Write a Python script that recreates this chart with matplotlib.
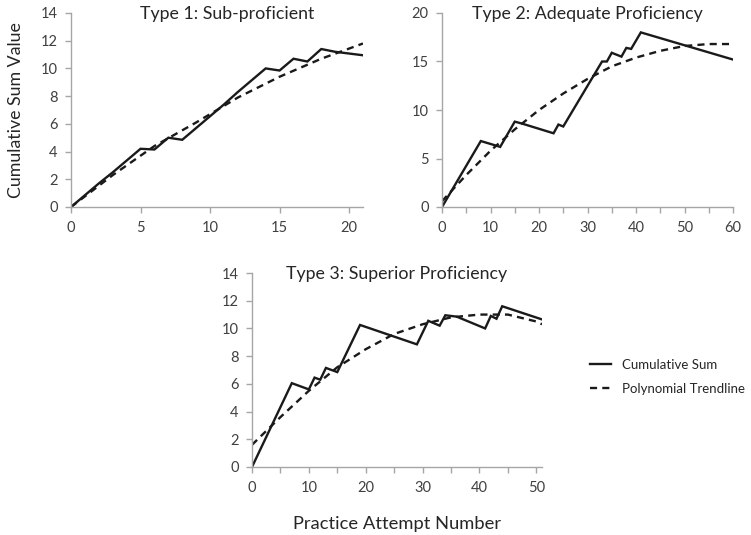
import matplotlib.pyplot as plt

plt.rcParams['font.family'] = ['Lato', 'DejaVu Sans']

# Type 1: Sub-proficient
t1_x = [0, 1, 2, 3, 4, 5, 6, 7, 8, 9, 10, 11, 12, 13, 14, 15, 16, 17, 18, 19, 21]
t1_cusum = [0, 0.85, 1.7, 2.5, 3.35, 4.2, 4.15, 5.0, 4.85, 5.7, 6.55, 7.4, 8.3, 9.15, 10.0, 9.85, 10.7, 10.5, 11.4, 11.2, 10.95]
t1_tx = [0, 3, 6, 9, 12, 15, 18, 21]
t1_trend = [0, 2.3, 4.4, 6.1, 7.9, 9.4, 10.7, 11.8]

# Type 2: Adequate Proficiency
t2_x = [0, 8, 12, 15, 16.5, 23, 24, 25, 33, 34, 35, 37, 38, 39, 41, 60]
t2_cusum = [0, 6.8, 6.2, 8.8, 8.6, 7.6, 8.5, 8.3, 15.0, 15.0, 15.9, 15.5, 16.4, 16.3, 18.0, 15.2]
t2_tx = [0, 5, 10, 15, 20, 25, 30, 35, 40, 45, 50, 55, 60]
t2_trend = [0.6, 3.3, 5.8, 8.0, 10.0, 11.7, 13.2, 14.5, 15.4, 16.1, 16.6, 16.8, 16.8]

# Type 3: Superior Proficiency
t3_x = [0, 7, 10, 11, 12, 13, 15, 19, 29, 31, 33, 34, 36, 41, 42, 43, 44, 51]
t3_cusum = [0, 6.05, 5.6, 6.45, 6.3, 7.15, 6.85, 10.25, 8.85, 10.55, 10.2, 10.95, 10.85, 10.0, 10.9, 10.7, 11.6, 10.65]
t3_tx = [0, 5, 10, 15, 20, 25, 30, 35, 40, 45, 50, 51]
t3_trend = [1.6, 3.6, 5.5, 7.2, 8.5, 9.6, 10.3, 10.8, 11.0, 11.0, 10.5, 10.3]

text_col = '#262626'
tick_col = '#404040'
axis_col = '#a6a6a6'


def style_axes(ax, xlim, ylim, xticks, xlabels, yticks):
    ax.set_xlim(*xlim)
    ax.set_ylim(*ylim)
    ax.set_xticks(xticks)
    ax.set_xticklabels(xlabels)
    ax.set_yticks(yticks)
    for s in ['top', 'right']:
        ax.spines[s].set_visible(False)
    for s in ['left', 'bottom']:
        ax.spines[s].set_color(axis_col)
        ax.spines[s].set_linewidth(1.0)
    ax.tick_params(direction='out', length=4.5, width=1.0, color=axis_col,
                   labelsize=10.5, labelcolor=tick_col)
    ax.tick_params(axis='x', pad=5.5)
    ax.tick_params(axis='y', pad=5)


fig = plt.figure(figsize=(7.51, 5.35), dpi=100)

line_kw = dict(color='#1a1a1a', lw=1.7, solid_joinstyle='miter')
dash_kw = dict(color='#1a1a1a', lw=1.7, ls=(0, (3, 2.2)))

ax1 = fig.add_axes([71 / 751, 1 - 207 / 535, 292 / 751, 194 / 535])
ax1.plot(t1_x, t1_cusum, **line_kw)
ax1.plot(t1_tx, t1_trend, **dash_kw)
style_axes(ax1, (0, 21), (0, 14), [0, 5, 10, 15, 20], ['0', '5', '10', '15', '20'], range(0, 15, 2))
ax1.set_title('Type 1: Sub-proficient', fontsize=12.8, color=text_col, x=0.535, y=0.95, va='center')
ax1.set_ylabel('Cumulative Sum Value', fontsize=12.8, color=text_col, labelpad=12)

ax2 = fig.add_axes([442 / 751, 1 - 207 / 535, 291 / 751, 194 / 535])
ax2.plot(t2_x, t2_cusum, **line_kw)
ax2.plot(t2_tx, t2_trend, **dash_kw)
style_axes(ax2, (0, 60), (0, 20), range(0, 61, 5),
           [str(v) if v % 10 == 0 else '' for v in range(0, 61, 5)], range(0, 21, 5))
ax2.set_title('Type 2: Adequate Proficiency', fontsize=12.8, color=text_col, x=0.5, y=0.95, va='center')

ax3 = fig.add_axes([252 / 751, 1 - 467 / 535, 290 / 751, 194 / 535])
ax3.plot(t3_x, t3_cusum, **line_kw, label='Cumulative Sum')
ax3.plot(t3_tx, t3_trend, **dash_kw, label='Polynomial Trendline')
style_axes(ax3, (0, 51), (0, 14), range(0, 51, 5),
           [str(v) if v % 10 == 0 else '' for v in range(0, 51, 5)], range(0, 15, 2))
ax3.set_title('Type 3: Superior Proficiency', fontsize=12.8, color=text_col, x=0.5, y=0.95, va='center')
ax3.set_xlabel('Practice Attempt Number', fontsize=13.2, color=text_col, labelpad=15)

fig.legend(handles=ax3.get_lines(), loc='center left', bbox_to_anchor=(578 / 751, 1 - 377 / 535),
           frameon=False, fontsize=9.5, handlelength=1.6, labelspacing=0.9, handletextpad=0.8,
           labelcolor=text_col)

fig.savefig('out.png', dpi=100)
